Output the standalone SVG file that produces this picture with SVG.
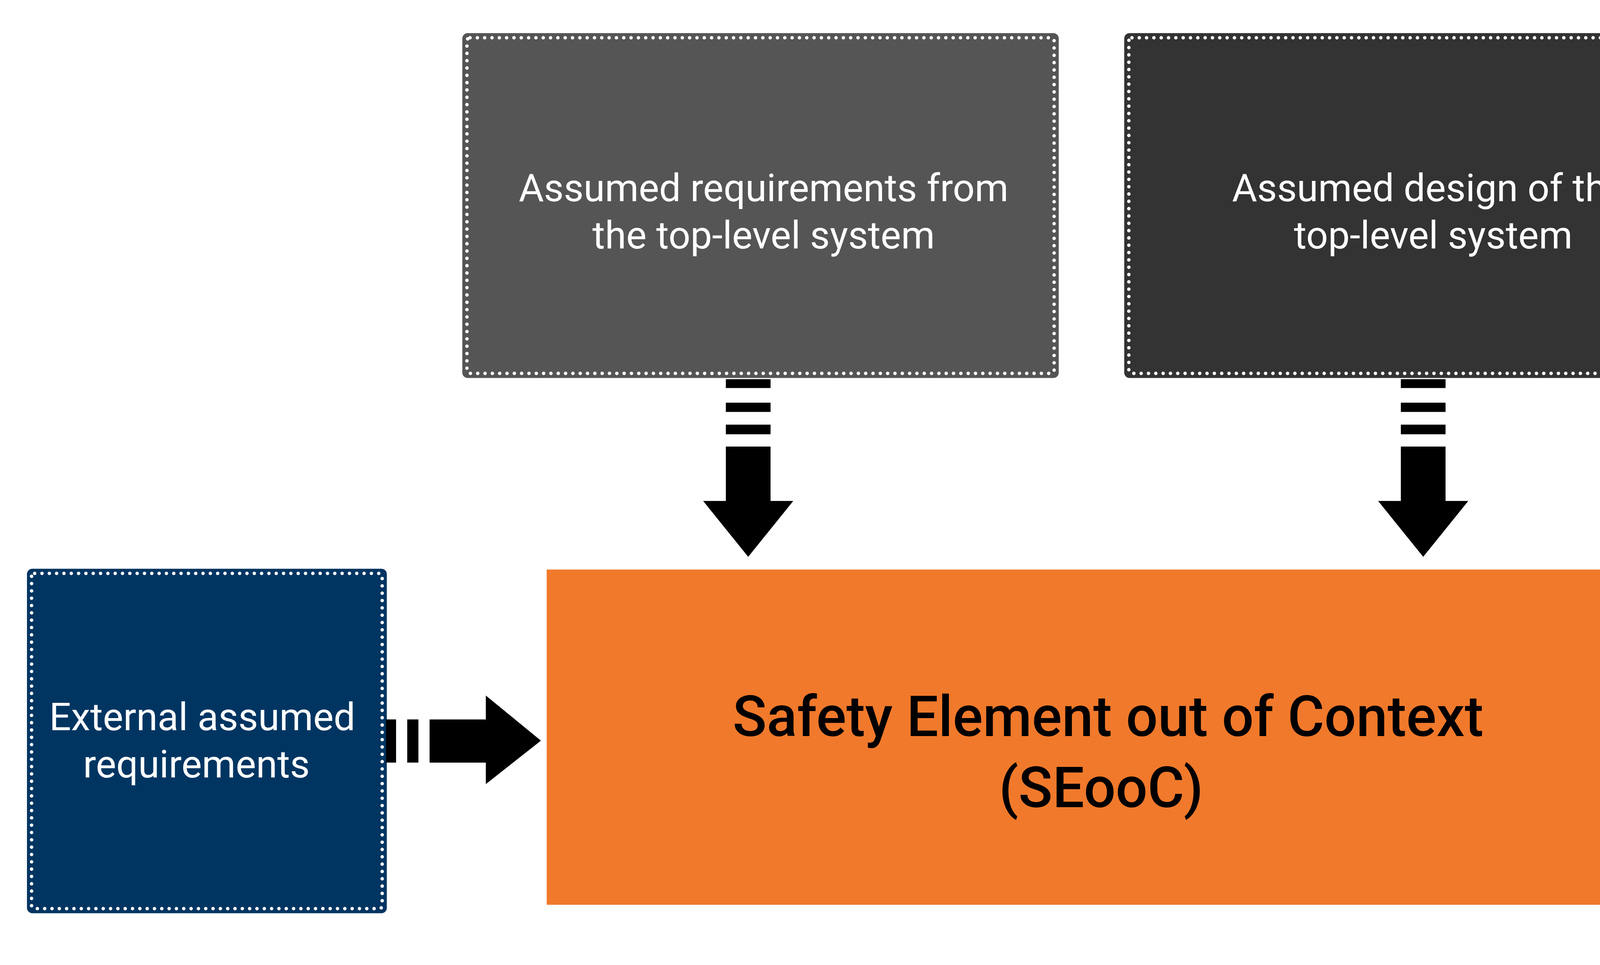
<svg xmlns="http://www.w3.org/2000/svg" width="4512" height="2470" viewBox="0 0 4512 2470">
<style>
.dot{stroke:#fff;stroke-width:9;stroke-dasharray:0 19;stroke-linecap:round;fill:none}
.t{font-family:Roboto,"Liberation Sans",sans-serif;fill:#fff;font-size:100px;text-anchor:middle}
.b{font-family:Roboto,"Liberation Sans",sans-serif;fill:#000;font-size:146px;font-weight:500;text-anchor:middle}
</style>
<rect width="4512" height="2470" fill="#fff"/>
<g transform="scale(0.9863)">
<g id="req">
<rect x="1200" y="86" width="1548" height="895" rx="14" fill="#555555"/>
<rect x="1212" y="98" width="1524" height="871" rx="8" class="dot"/>
<text class="t" x="1982" y="522">Assumed requirements from</text>
<text class="t" x="1982" y="645">the top-level system</text>
</g>
<g id="design">
<rect x="2918" y="86" width="1550" height="895" rx="14" fill="#333333"/>
<rect x="2930" y="98" width="1526" height="871" rx="8" class="dot"/>
<text class="t" x="3710" y="522">Assumed design of the</text>
<text class="t" x="3720" y="645">top-level system</text>
</g>
<g id="ext">
<rect x="70" y="1476" width="934" height="894" rx="14" fill="#003562"/>
<rect x="82" y="1488" width="910" height="870" rx="8" class="dot"/>
<text class="t" x="525" y="1895">External assumed</text>
<text class="t" x="510" y="2018">requirements</text>
</g>
<g id="seooc">
<rect x="1419" y="1478" width="2914" height="870" fill="#f1792b"/>
<text class="b" x="2876" y="1910">Safety Element out of Context</text>
<text class="b" x="2858" y="2095">(SEooC)</text>
</g>
<g id="connectors" fill="#000">
<g transform="translate(1942,0)">
<rect x="-58" y="984" width="116" height="23"/>
<rect x="-58" y="1045" width="116" height="24"/>
<rect x="-58" y="1102" width="116" height="25"/>
<path d="M-58 1159H58V1300H117L0 1445L-117 1300H-58Z"/>
</g>
<g transform="translate(3694,0)">
<rect x="-58" y="984" width="116" height="23"/>
<rect x="-58" y="1045" width="116" height="24"/>
<rect x="-58" y="1102" width="116" height="25"/>
<path d="M-58 1159H58V1300H117L0 1445L-117 1300H-58Z"/>
</g>
<rect x="1002" y="1867" width="26" height="112"/>
<rect x="1057" y="1867" width="29" height="112"/>
<path d="M1115 1867H1261V1805L1404 1922L1261 2035V1979H1115Z"/>
</g>
</g>
</svg>
